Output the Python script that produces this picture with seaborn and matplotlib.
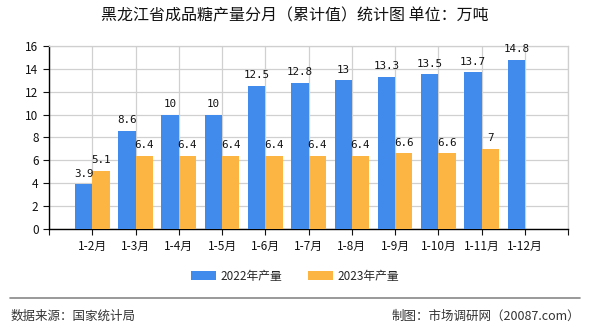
import matplotlib
matplotlib.use("Agg")
import matplotlib.pyplot as plt
import seaborn as sns
import pandas as pd
import numpy as np

# Monthly cumulative output (10k tonnes)
months = ["1-2月", "1-3月", "1-4月", "1-5月", "1-6月", "1-7月",
          "1-8月", "1-9月", "1-10月", "1-11月", "1-12月"]
output_2022 = [3.9, 8.6, 10, 10, 12.5, 12.8, 13, 13.3, 13.5, 13.7, 14.8]
output_2023 = [5.1, 6.4, 6.4, 6.4, 6.4, 6.4, 6.4, 6.6, 6.6, 7, None]
series_names = ["2022年产量", "2023年产量"]
colors = ["#418bec", "#fcb442"]

rows = []
for m, a, b in zip(months, output_2022, output_2023):
    rows.append({"month": m, "series": series_names[0], "value": a})
    if b is not None:
        rows.append({"month": m, "series": series_names[1], "value": b})
df = pd.DataFrame(rows)

sns.set_theme(style="white")
plt.rcParams["font.family"] = ["Noto Sans CJK SC", "DejaVu Sans"]

fig = plt.figure(figsize=(5.9, 3.3), dpi=100)
ax = fig.add_axes([0.083, 0.306, 0.880, 0.555])

sns.barplot(data=df, x="month", y="value", hue="series", order=months,
            hue_order=series_names, palette=colors, width=0.8,
            saturation=1, ax=ax, legend=True, zorder=3,
            edgecolor="none", linewidth=0)

# value labels above each bar
label_sets = [output_2022, [v for v in output_2023 if v is not None]]
for cont, vals in zip(ax.containers, label_sets):
    ax.bar_label(cont, labels=[f"{v:g}" for v in vals], padding=4,
                 fontsize=7.8, family=["DejaVu Sans Mono"], color="#111")

n = len(months)
ax.set_xlim(-1, n)
ax.set_ylim(0, 16)
ax.set_yticks(np.arange(0, 17, 2))
ax.set_xticks(np.arange(-1, n + 1))
ax.set_xticklabels([""] + months + [""])
ax.tick_params(axis="both", labelsize=8.5, colors="#111", length=4,
               width=0.8, direction="out", bottom=True, left=True)
ax.tick_params(axis="x", pad=4)
ax.set_xlabel("")
ax.set_ylabel("")
ax.grid(True, color="#d0d0d0", linewidth=0.9, zorder=0)
ax.set_axisbelow(True)
for side in ["top", "right"]:
    ax.spines[side].set_color("#cfcfcf")
    ax.spines[side].set_linewidth(0.9)
for side in ["left", "bottom"]:
    ax.spines[side].set_color("#000")
    ax.spines[side].set_linewidth(1.0)

ax.get_legend().remove()
handles, labels = ax.get_legend_handles_labels()
fig.legend(handles[:2], labels[:2], loc="center", bbox_to_anchor=(0.5, 0.162),
           ncol=2, frameon=False, fontsize=8.5, handlelength=2.1,
           handleheight=0.8, columnspacing=2.2, handletextpad=0.4)

fig.text(0.5, 0.953, "黑龙江省成品糖产量分月（累计值）统计图 单位：万吨",
         ha="center", va="center", fontsize=11.5, color="#111")

# footer
fig.add_artist(plt.Line2D([0.017, 0.983], [0.097, 0.097],
                          transform=fig.transFigure, color="#888", linewidth=1.2))
fig.text(0.017, 0.042, "数据来源：国家统计局", ha="left", va="center",
         fontsize=9, color="#333")
fig.text(0.983, 0.042, "制图：市场调研网（20087.com）", ha="right", va="center",
         fontsize=9, color="#333")

fig.savefig("out.png", dpi=100)
